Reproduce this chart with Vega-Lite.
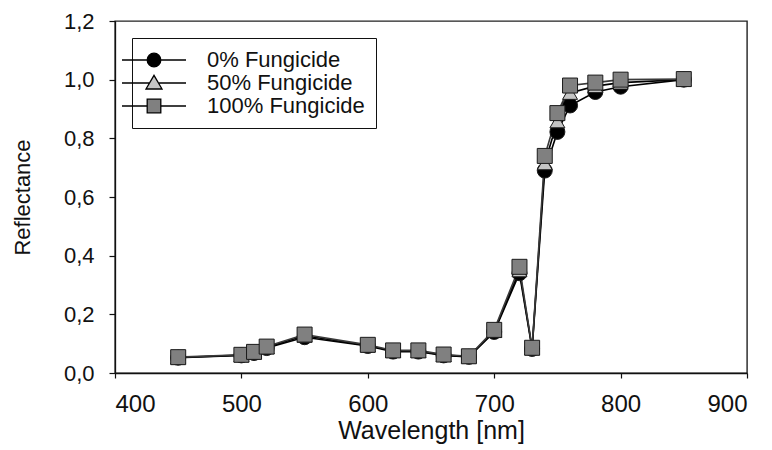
{
  "$schema": "https://vega.github.io/schema/vega-lite/v6.json",
  "autosize": "none",
  "width": 632,
  "height": 352,
  "padding": {"left": 115, "top": 21, "right": 25, "bottom": 77},
  "background": "white",
  "config": {
    "font": "Liberation Sans",
    "view": {"stroke": "#222222", "strokeWidth": 1.4},
    "axis": {
      "grid": false,
      "domainColor": "#111111",
      "domainWidth": 1.3,
      "tickColor": "#111111",
      "tickWidth": 1.2,
      "labelColor": "#111111",
      "titleColor": "#111111",
      "titleFontWeight": "normal",
      "labelFont": "Liberation Sans",
      "titleFont": "Liberation Sans"
    }
  },
  "data": {
    "values": [
      {"wl": 450, "treatment": "0% Fungicide", "r": 0.052},
      {"wl": 500, "treatment": "0% Fungicide", "r": 0.060},
      {"wl": 510, "treatment": "0% Fungicide", "r": 0.068},
      {"wl": 520, "treatment": "0% Fungicide", "r": 0.085},
      {"wl": 550, "treatment": "0% Fungicide", "r": 0.122},
      {"wl": 600, "treatment": "0% Fungicide", "r": 0.092},
      {"wl": 620, "treatment": "0% Fungicide", "r": 0.073},
      {"wl": 640, "treatment": "0% Fungicide", "r": 0.073},
      {"wl": 660, "treatment": "0% Fungicide", "r": 0.060},
      {"wl": 680, "treatment": "0% Fungicide", "r": 0.055},
      {"wl": 700, "treatment": "0% Fungicide", "r": 0.140},
      {"wl": 720, "treatment": "0% Fungicide", "r": 0.340},
      {"wl": 730, "treatment": "0% Fungicide", "r": 0.082},
      {"wl": 740, "treatment": "0% Fungicide", "r": 0.690},
      {"wl": 750, "treatment": "0% Fungicide", "r": 0.822},
      {"wl": 760, "treatment": "0% Fungicide", "r": 0.912},
      {"wl": 780, "treatment": "0% Fungicide", "r": 0.958},
      {"wl": 800, "treatment": "0% Fungicide", "r": 0.976},
      {"wl": 850, "treatment": "0% Fungicide", "r": 1.000},
      {"wl": 450, "treatment": "50% Fungicide", "r": 0.053},
      {"wl": 500, "treatment": "50% Fungicide", "r": 0.061},
      {"wl": 510, "treatment": "50% Fungicide", "r": 0.070},
      {"wl": 520, "treatment": "50% Fungicide", "r": 0.088},
      {"wl": 550, "treatment": "50% Fungicide", "r": 0.127},
      {"wl": 600, "treatment": "50% Fungicide", "r": 0.094},
      {"wl": 620, "treatment": "50% Fungicide", "r": 0.075},
      {"wl": 640, "treatment": "50% Fungicide", "r": 0.075},
      {"wl": 660, "treatment": "50% Fungicide", "r": 0.061},
      {"wl": 680, "treatment": "50% Fungicide", "r": 0.056},
      {"wl": 700, "treatment": "50% Fungicide", "r": 0.143},
      {"wl": 720, "treatment": "50% Fungicide", "r": 0.350},
      {"wl": 730, "treatment": "50% Fungicide", "r": 0.084},
      {"wl": 740, "treatment": "50% Fungicide", "r": 0.715},
      {"wl": 750, "treatment": "50% Fungicide", "r": 0.858},
      {"wl": 760, "treatment": "50% Fungicide", "r": 0.955},
      {"wl": 780, "treatment": "50% Fungicide", "r": 0.978},
      {"wl": 800, "treatment": "50% Fungicide", "r": 0.990},
      {"wl": 850, "treatment": "50% Fungicide", "r": 1.000},
      {"wl": 450, "treatment": "100% Fungicide", "r": 0.054},
      {"wl": 500, "treatment": "100% Fungicide", "r": 0.062},
      {"wl": 510, "treatment": "100% Fungicide", "r": 0.072},
      {"wl": 520, "treatment": "100% Fungicide", "r": 0.090},
      {"wl": 550, "treatment": "100% Fungicide", "r": 0.131},
      {"wl": 600, "treatment": "100% Fungicide", "r": 0.096},
      {"wl": 620, "treatment": "100% Fungicide", "r": 0.077},
      {"wl": 640, "treatment": "100% Fungicide", "r": 0.077},
      {"wl": 660, "treatment": "100% Fungicide", "r": 0.063},
      {"wl": 680, "treatment": "100% Fungicide", "r": 0.057},
      {"wl": 700, "treatment": "100% Fungicide", "r": 0.147},
      {"wl": 720, "treatment": "100% Fungicide", "r": 0.362},
      {"wl": 730, "treatment": "100% Fungicide", "r": 0.086},
      {"wl": 740, "treatment": "100% Fungicide", "r": 0.740},
      {"wl": 750, "treatment": "100% Fungicide", "r": 0.886},
      {"wl": 760, "treatment": "100% Fungicide", "r": 0.980},
      {"wl": 780, "treatment": "100% Fungicide", "r": 0.990},
      {"wl": 800, "treatment": "100% Fungicide", "r": 1.000},
      {"wl": 850, "treatment": "100% Fungicide", "r": 1.002}
    ]
  },
  "encoding": {
    "x": {
      "field": "wl",
      "type": "quantitative",
      "scale": {"domain": [400, 900], "nice": false, "zero": false},
      "axis": {
        "title": "Wavelength [nm]",
        "values": [400, 500, 600, 700, 800, 900],
        "tickSize": 5,
        "labelPadding": 14,
        "labelFontSize": 24,
        "titleFontSize": 25,
        "titleBaseline": "alphabetic",
        "titleY": 65
      }
    },
    "y": {
      "field": "r",
      "type": "quantitative",
      "scale": {"domain": [0, 1.2], "nice": false},
      "axis": {
        "title": "Reflectance",
        "values": [0, 0.2, 0.4, 0.6, 0.8, 1.0, 1.2],
        "labelExpr": "replace(format(datum.value, '.1f'), '.', ',')",
        "tickSize": 6,
        "labelPadding": 15,
        "labelFontSize": 22,
        "titleFontSize": 22,
        "titleBaseline": "alphabetic",
        "titleX": -86,
        "titleY": 176
      }
    }
  },
  "layer": [
    {
      "transform": [{"filter": "datum.treatment != '100% Fungicide'"}],
      "mark": {"type": "line", "strokeWidth": 1.6, "stroke": "#000000"},
      "encoding": {"detail": {"field": "treatment"}}
    },
    {
      "transform": [{"filter": "datum.treatment == '100% Fungicide'"}],
      "mark": {"type": "line", "strokeWidth": 1.6, "stroke": "#3a3a3a"},
      "encoding": {}
    },
    {
      "transform": [{"filter": "datum.treatment == '0% Fungicide'"}],
      "mark": {"type": "point", "shape": "circle", "filled": true, "fill": "#000000", "size": 225, "stroke": "#1a1a1a", "strokeWidth": 1, "opacity": 1}
    },
    {
      "transform": [{"filter": "datum.treatment == '50% Fungicide'"}],
      "mark": {"type": "point", "shape": "triangle-up", "filled": true, "fill": "#c4c4c4", "size": 225, "stroke": "#1a1a1a", "strokeWidth": 1, "opacity": 1}
    },
    {
      "transform": [{"filter": "datum.treatment == '100% Fungicide'"}],
      "mark": {"type": "point", "shape": "square", "filled": true, "fill": "#808080", "size": 225, "stroke": "#1a1a1a", "strokeWidth": 1, "opacity": 1}
    },
    {
      "mark": {"type": "point", "filled": true, "size": 256, "stroke": "#000000", "strokeWidth": 1.3, "opacity": 0},
      "encoding": {
        "shape": {
          "field": "treatment",
          "type": "nominal",
          "scale": {
            "domain": ["0% Fungicide", "50% Fungicide", "100% Fungicide"],
            "range": [
              "M-4,0H-0.85M0.85,0H4M-0.85,0A0.85,0.85 0 1,0 0.85,0A0.85,0.85 0 1,0 -0.85,0Z",
              "M-4,0H-0.55M0.55,0H4M-1,0.75L1,0.75L0,-0.95Z",
              "M-4,0H-0.85M0.85,0H4M-0.85,-0.85H0.85V0.85H-0.85Z"
            ]
          },
          "legend": {
            "title": null,
            "orient": "none",
            "legendX": 17,
            "legendY": 17,
            "padding": 11,
            "strokeColor": "#111111",
            "fillColor": "white",
            "symbolSize": 256,
            "symbolOpacity": 1,
            "symbolStrokeWidth": 1.3,
            "labelFontSize": 22,
            "labelColor": "#111111",
            "labelOffset": 42,
            "rowPadding": 1,
            "labelLimit": 400,
            "encode": {
              "symbols": {
                "stroke": {"value": {"expr": "datum.value == '100% Fungicide' ? '#3a3a3a' : '#000000'"}},
                "opacity": {"value": 1}
              }
            }
          }
        },
        "fill": {
          "field": "treatment",
          "type": "nominal",
          "scale": {
            "domain": ["0% Fungicide", "50% Fungicide", "100% Fungicide"],
            "range": ["#000000", "#c4c4c4", "#808080"]
          }
        }
      }
    }
  ]
}
